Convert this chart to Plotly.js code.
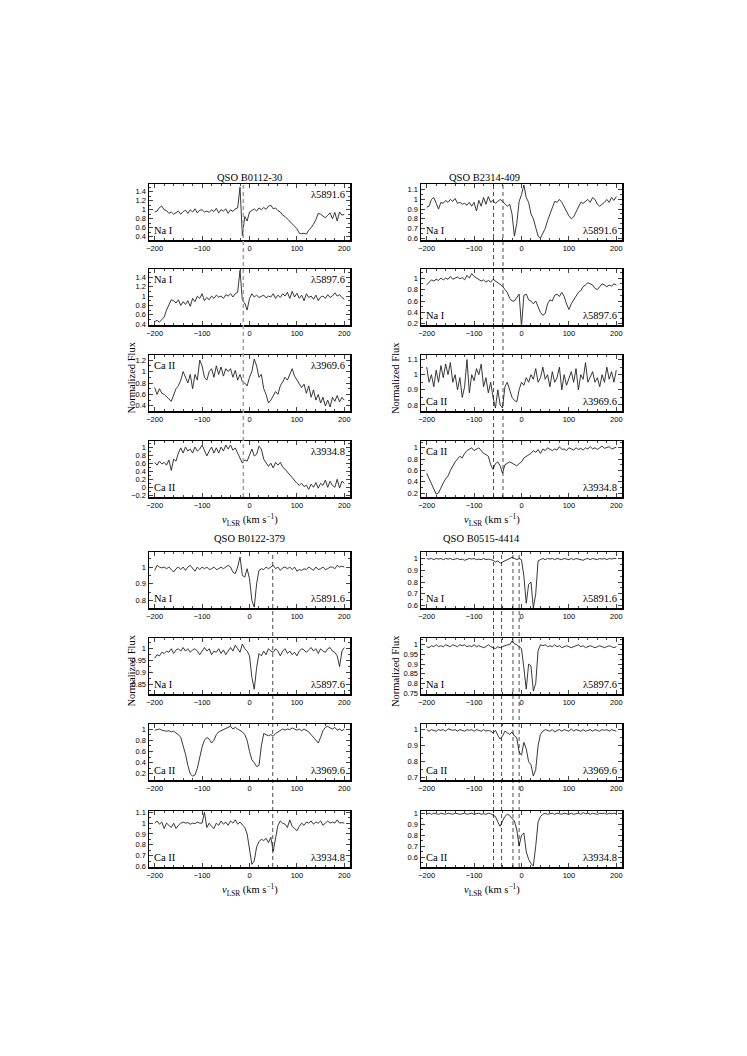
<!DOCTYPE html>
<html>
<head>
<meta charset="utf-8">
<script src="https://cdn.plot.ly/plotly-3.0.1.min.js"></script>
<style>body{margin:0;background:#fff}#chart{width:747px;height:1056px}</style>
</head>
<body>
<div id="chart"></div>
<script>
// Interstellar absorption profiles towards four QSOs (Na I and Ca II)

var vel = [-200,-195,-190,-185,-180,-175,-170,-165,-160,-155,
  -150,-145,-140,-135,-130,-125,-120,-115,-110,-105,
  -100,-95,-90,-85,-80,-75,-70,-65,-60,-55,
  -50,-45,-40,-35,-30,-25,-20,-15,-10,-5,
  0,5,10,15,20,25,30,35,40,45,
  50,55,60,65,70,75,80,85,90,95,
  100,105,110,115,120,125,130,135,140,145,
  150,155,160,165,170,175,180,185,190,195,
  200];

// ---- QSO B0112-30 ----
var b0112_na5891 = [0.95,0.97,1.05,1.08,1.0,0.98,0.92,0.95,0.9,0.93,
  0.97,0.9,0.96,0.99,0.92,1.0,0.95,1.02,0.93,0.99,
  1.0,0.95,0.97,0.94,1.0,0.96,1.03,0.93,1.0,0.97,
  1.02,0.92,1.0,0.96,1.02,1.04,1.5,0.42,0.85,0.75,
  0.95,0.98,1.02,0.97,1.04,1.0,1.05,1.01,1.08,1.1,
  1.02,1.04,0.98,0.95,0.88,0.85,0.8,0.75,0.7,0.64,
  0.58,0.48,0.47,0.48,0.46,0.55,0.6,0.68,0.78,0.92,
  0.9,0.86,0.82,0.88,0.93,0.8,0.94,0.75,0.95,0.88,
  0.9];
var b0112_na5897 = [0.45,0.48,0.44,0.5,0.55,0.7,0.8,0.92,0.9,0.85,
  0.92,0.8,0.88,0.82,0.9,0.78,0.95,0.88,1.0,0.95,
  1.05,0.9,0.97,0.92,1.0,0.95,1.02,0.98,1.0,0.95,
  1.03,1.0,1.05,0.98,1.05,1.08,1.55,0.9,0.85,0.7,
  0.95,1.05,0.98,1.02,0.97,1.0,1.02,0.96,1.0,0.98,
  1.05,0.95,1.02,0.97,1.05,1.0,1.08,0.95,1.1,0.98,
  1.06,0.95,1.02,0.9,1.05,0.97,1.0,0.93,1.02,0.9,
  0.98,1.0,0.95,1.03,0.97,1.0,1.07,1.0,1.03,0.97,
  0.93];
var b0112_ca3969 = [0.72,0.6,0.7,0.62,0.6,0.55,0.52,0.48,0.6,0.7,
  0.75,0.85,1.0,0.9,0.8,0.95,0.7,0.95,0.85,1.2,
  1.1,0.9,0.85,1.0,1.05,0.9,1.1,0.95,1.08,0.92,
  1.05,1.0,1.05,0.9,1.02,0.85,0.95,0.82,0.8,0.75,
  0.9,1.0,1.22,1.1,0.9,0.95,0.7,0.6,0.45,0.5,
  0.58,0.65,0.6,0.75,0.82,0.9,0.85,0.95,1.05,0.92,
  0.85,0.8,0.72,0.78,0.62,0.75,0.55,0.68,0.5,0.6,
  0.45,0.55,0.4,0.5,0.38,0.55,0.48,0.58,0.47,0.55,
  0.5];
var b0112_ca3934 = [0.62,0.55,0.65,0.58,0.62,0.55,0.68,0.42,0.7,0.65,
  0.85,0.98,0.85,1.0,0.9,0.95,0.85,1.0,0.9,0.95,
  1.05,0.9,0.78,0.9,1.0,0.85,0.98,0.85,1.0,0.9,
  1.05,0.95,1.05,0.92,0.98,0.85,0.72,0.6,0.68,0.65,
  0.8,0.95,0.78,0.82,1.02,0.95,0.7,0.6,0.52,0.6,
  0.48,0.62,0.55,0.62,0.5,0.45,0.38,0.3,0.22,0.15,
  0.1,0.05,0.1,0.02,0.05,-0.05,0.08,0.0,0.12,-0.02,
  0.1,0.05,0.18,0.0,0.15,0.05,0.0,0.2,-0.02,0.15,
  0.1];

// ---- QSO B2314-409 ----
var b2314_na5891 = [0.92,0.93,1.0,1.02,0.96,0.9,0.97,0.96,0.99,0.97,
  1.0,0.98,1.01,0.96,0.97,0.95,0.96,0.94,0.97,0.93,
  0.97,0.88,0.99,0.93,1.02,0.95,1.03,0.97,0.99,0.96,
  0.98,1.0,0.98,0.95,0.93,0.95,0.85,0.62,0.75,0.98,
  1.05,1.15,1.02,0.97,0.85,0.8,0.7,0.62,0.6,0.65,
  0.7,0.78,0.85,0.92,0.98,0.97,1.0,0.97,0.92,0.88,
  0.83,0.8,0.82,0.87,0.92,0.97,0.96,0.98,1.0,0.97,
  1.02,1.0,0.95,0.93,0.95,0.97,1.0,0.97,1.02,0.99,
  1.03];
var b2314_na5897 = [0.88,0.93,0.97,0.95,0.98,0.96,1.0,0.97,1.0,0.98,
  1.03,0.98,1.0,1.02,0.99,1.01,0.97,1.05,1.0,1.08,
  1.03,1.0,0.97,0.95,0.97,0.93,0.96,0.93,0.98,0.95,
  0.92,0.88,0.86,0.8,0.75,0.65,0.6,0.6,0.65,0.72,
  0.15,0.7,0.72,0.62,0.6,0.55,0.6,0.5,0.4,0.35,
  0.38,0.55,0.62,0.6,0.7,0.72,0.68,0.75,0.68,0.55,
  0.45,0.55,0.62,0.68,0.75,0.78,0.85,0.88,0.92,0.9,
  0.88,0.82,0.8,0.85,0.9,0.88,0.85,0.88,0.86,0.9,
  0.88];
var b2314_ca3969 = [1.05,0.95,1.0,0.92,1.03,0.95,1.06,0.98,1.07,1.0,
  1.08,0.95,1.0,0.9,0.98,0.85,0.92,1.1,0.88,1.0,
  0.96,1.04,1.0,1.07,0.92,0.98,0.88,0.95,0.85,0.78,
  0.9,0.8,0.78,0.92,0.95,0.9,0.85,0.83,0.82,0.9,
  0.95,0.93,0.98,0.95,1.0,0.97,1.04,0.95,0.98,1.05,
  0.97,1.0,0.92,1.02,0.95,0.98,1.05,0.9,1.0,0.93,
  0.97,1.02,0.95,1.04,0.9,1.0,0.97,1.08,0.95,0.98,
  1.02,0.95,0.98,0.92,1.0,0.95,1.05,0.97,1.02,0.95,
  1.03];
var b2314_ca3934 = [0.55,0.45,0.35,0.25,0.18,0.2,0.3,0.38,0.45,0.5,
  0.6,0.68,0.75,0.8,0.85,0.82,0.9,0.95,0.98,1.0,
  0.95,0.98,1.0,0.95,0.9,0.88,0.85,0.7,0.62,0.72,
  0.75,0.68,0.55,0.7,0.72,0.75,0.73,0.7,0.68,0.72,
  0.75,0.82,0.85,0.88,0.9,0.95,0.92,0.97,0.9,0.98,
  0.95,1.0,0.97,0.95,0.98,0.96,1.02,0.97,0.98,0.95,
  1.0,0.98,0.96,1.0,0.97,0.99,0.96,1.0,0.98,1.02,
  0.98,1.0,0.97,1.0,1.03,0.99,1.0,1.02,0.98,1.0,
  1.01];

// ---- QSO B0122-379 ----
var b0122_na5891 = [0.98,1.01,1.0,0.995,1.0,0.99,1.0,0.985,0.97,0.99,
  1.0,0.985,1.0,0.98,1.0,1.01,0.99,0.975,1.0,0.985,
  1.0,0.99,1.0,0.985,0.99,1.0,0.985,0.99,1.0,0.99,
  1.0,1.01,1.0,0.97,0.96,1.0,1.06,0.95,0.94,0.99,
  0.93,0.8,0.76,0.9,0.98,0.99,0.985,1.0,0.99,1.0,
  1.01,0.99,1.0,0.98,0.995,1.0,0.99,1.0,0.985,1.0,
  0.975,0.985,0.98,0.99,0.985,1.0,0.99,0.98,1.0,0.985,
  0.99,1.0,0.985,0.99,1.0,1.0,0.99,1.01,1.0,1.005,
  1.0];
var b0122_na5897 = [0.96,0.975,0.97,0.985,0.98,0.99,0.985,1.0,0.98,0.995,
  1.0,0.99,1.005,0.99,1.0,0.985,0.995,1.0,0.99,0.975,
  0.99,1.005,0.99,1.0,0.975,0.99,0.985,1.0,0.98,0.995,
  0.975,0.99,1.005,0.99,1.015,1.0,0.985,1.02,1.0,0.99,
  0.97,0.88,0.83,0.92,0.98,0.97,0.99,0.975,1.0,0.99,
  0.985,1.0,0.99,0.97,0.99,1.0,0.98,0.99,0.975,0.985,
  0.97,0.99,1.0,0.995,0.985,0.995,1.005,0.99,1.0,0.98,
  1.0,0.99,0.985,1.0,1.005,0.99,0.985,0.97,0.925,0.99,
  1.005];
var b0122_ca3969 = [0.98,0.99,1.0,0.98,0.97,0.96,0.97,0.95,0.96,0.93,
  0.9,0.85,0.72,0.55,0.35,0.2,0.16,0.18,0.3,0.5,
  0.68,0.8,0.85,0.82,0.75,0.8,0.9,0.95,0.97,0.98,
  1.0,1.02,1.05,1.0,1.03,1.0,0.97,0.95,0.9,0.8,
  0.6,0.45,0.4,0.33,0.35,0.7,0.92,0.9,0.88,0.9,
  0.87,0.92,0.95,0.97,1.0,0.98,1.0,0.99,1.02,1.0,
  0.98,1.0,0.97,1.0,0.98,0.95,0.9,0.85,0.78,0.75,
  0.85,0.97,1.03,1.05,1.02,1.0,1.03,0.98,1.0,0.97,
  1.0];
var b0122_ca3934 = [1.0,1.02,0.99,1.01,0.95,1.0,0.98,0.96,1.0,0.95,
  0.98,1.0,1.01,1.0,1.005,0.99,1.0,0.995,1.01,1.0,
  1.0,1.1,0.96,1.0,0.97,0.95,1.0,0.98,1.02,0.99,
  1.01,0.98,1.02,1.0,1.03,0.99,1.01,0.98,0.96,0.9,
  0.75,0.62,0.65,0.78,0.83,0.85,0.84,0.86,0.82,0.87,
  0.74,0.85,0.98,1.02,1.0,0.99,0.96,1.03,0.97,0.95,
  0.93,0.97,1.0,0.98,1.01,1.0,1.02,0.99,1.01,1.0,
  1.02,0.98,1.0,1.02,1.0,1.01,1.0,1.03,1.0,1.005,
  1.0];

// ---- QSO B0515-4414 ----
var b0515_na5891 = [1.0,0.995,1.0,0.99,1.0,0.995,1.0,0.99,1.0,0.995,
  1.0,0.99,0.995,1.0,0.99,0.995,0.985,0.99,1.0,0.995,
  1.0,0.99,0.995,0.99,1.0,0.99,0.995,0.99,0.985,0.97,
  0.98,0.96,0.97,0.98,0.99,1.0,1.01,1.0,0.99,1.0,
  0.99,0.85,0.62,0.78,0.8,0.58,0.7,0.98,0.99,1.0,
  0.99,1.0,0.995,1.0,0.99,1.0,0.995,0.99,1.0,0.995,
  0.99,1.0,0.99,1.0,0.995,0.99,0.985,0.995,1.0,0.99,
  1.0,0.995,0.99,1.0,0.995,1.0,0.99,1.0,0.995,1.0,
  1.0];
var b0515_na5897 = [0.99,0.985,0.995,0.99,1.0,0.99,0.995,0.99,1.0,0.995,
  0.99,1.0,0.995,0.99,1.0,0.995,1.0,0.99,0.995,0.99,
  1.0,0.99,0.995,0.99,0.985,0.99,1.0,0.99,0.985,0.98,
  0.99,0.985,0.99,0.995,1.0,1.0,1.02,1.005,1.0,0.99,
  0.98,0.88,0.77,0.9,0.89,0.76,0.8,0.97,1.0,0.995,
  1.0,0.99,0.995,0.99,1.0,0.99,0.995,0.985,0.99,0.995,
  0.99,0.985,0.99,0.995,1.0,0.99,0.995,0.985,0.99,0.995,
  0.99,0.985,0.99,0.995,0.99,0.985,0.99,0.995,0.99,0.985,
  0.99];
var b0515_ca3969 = [1.0,0.99,1.0,0.995,0.99,1.0,0.995,1.0,0.99,1.005,
  1.0,0.995,1.0,0.99,1.0,0.995,0.99,1.0,0.995,1.0,
  0.99,1.0,0.995,0.99,1.0,0.99,0.995,0.99,0.98,0.995,
  0.965,0.94,0.96,0.99,0.98,0.97,0.985,0.96,0.95,0.86,
  0.84,0.92,0.88,0.8,0.78,0.71,0.75,0.9,0.97,0.99,
  1.0,0.995,0.99,1.0,0.985,0.995,1.0,0.99,1.0,0.995,
  0.99,1.005,0.99,1.0,0.995,0.99,1.0,0.99,0.995,1.0,
  0.99,1.0,0.995,0.99,1.0,0.995,1.0,0.99,1.0,0.995,
  0.99];
var b0515_ca3934 = [0.995,1.0,0.99,1.0,0.995,0.99,1.0,0.995,0.99,1.0,
  0.995,0.99,1.0,0.995,0.99,0.995,1.0,0.99,0.995,1.0,
  0.99,0.995,1.0,0.99,0.995,0.99,1.0,0.995,0.98,0.97,
  0.92,0.88,0.93,0.97,0.99,0.98,0.95,0.93,0.85,0.7,
  0.8,0.82,0.65,0.58,0.54,0.52,0.7,0.92,0.97,0.99,
  1.0,0.99,0.995,1.0,0.99,1.0,0.995,0.99,1.0,0.995,
  0.99,1.0,0.99,0.995,1.0,0.99,1.005,0.995,1.0,0.99,
  1.0,0.995,0.99,1.0,0.995,1.0,0.99,1.0,0.995,1.0,
  0.995];

// marked velocity components (dashed lines)
var marks_b0112 = [-13];
var marks_b2314 = [-59, -39];
var marks_b0122 = [49];
var marks_b0515 = [-59, -42, -18, -5];

var ionNames = ['Na I', 'Na I', 'Ca II', 'Ca II'];
var lineNames = ['\u03bb5891.6', '\u03bb5897.6', '\u03bb3969.6', '\u03bb3934.8'];

// page geometry (pixels)
var W = 747, H = 1056;
var colL = [149, 350], colR = [421, 622];
var rowsTop = [[184, 240], [269, 325], [355, 411], [441, 497]];
var rowsBot = [[552, 608], [638, 694], [724, 780], [811, 867]];

var blocks = [
  { title: 'QSO B0112-30', col: colL, rows: rowsTop,
    flux: [b0112_na5891, b0112_na5897, b0112_ca3969, b0112_ca3934],
    yr: [[0.33, 1.57], [0.38, 1.58], [0.31, 1.29], [-0.24, 1.15]],
    dt: [0.2, 0.2, 0.2, 0.2],
    ionPos: ['ll', 'ul', 'ul', 'll'], linePos: ['ur', 'ur', 'ur', 'ur'],
    marks: marks_b0112, markColor: '#a0a0a0', markWidth: 1.5 },
  { title: 'QSO B2314-409', col: colR, rows: rowsTop,
    flux: [b2314_na5891, b2314_na5897, b2314_ca3969, b2314_ca3934],
    yr: [[0.58, 1.16], [0.18, 1.16], [0.76, 1.13], [0.13, 1.12]],
    dt: [0.1, 0.2, 0.1, 0.2],
    ionPos: ['ll', 'll', 'll', 'ul'], linePos: ['lr', 'lr', 'lr', 'lr'],
    marks: marks_b2314, markColor: '#000', markWidth: 0.7 },
  { title: 'QSO B0122-379', col: colL, rows: rowsBot,
    flux: [b0122_na5891, b0122_na5897, b0122_ca3969, b0122_ca3934],
    yr: [[0.755, 1.09], [0.81, 1.045], [0.09, 1.09], [0.595, 1.112]],
    dt: [0.1, 0.05, 0.2, 0.1],
    ionPos: ['ll', 'll', 'll', 'll'], linePos: ['lr', 'lr', 'lr', 'lr'],
    marks: marks_b0122, markColor: '#000', markWidth: 0.7 },
  { title: 'QSO B0515-4414', col: colR, rows: rowsBot,
    flux: [b0515_na5891, b0515_na5897, b0515_ca3969, b0515_ca3934],
    yr: [[0.58, 1.055], [0.745, 1.035], [0.685, 1.035], [0.51, 1.02]],
    dt: [0.1, 0.05, 0.1, 0.1],
    ionPos: ['ll', 'll', 'll', 'll'], linePos: ['lr', 'lr', 'lr', 'lr'],
    marks: marks_b0515, markColor: '#000', markWidth: 0.7 }
];

function px(x) { return x / W; }
function py(y) { return 1 - y / H; }

var serif = 'Liberation Serif, Times New Roman, serif';
var tickFont = { family: 'Liberation Sans, Arial, sans-serif', size: 7.5, color: '#000' };
var labFont = { family: serif, size: 10.5, color: '#000' };

var data = [];
var layout = {
  width: W, height: H, autosize: false,
  margin: { l: 0, r: 0, t: 0, b: 0 },
  paper_bgcolor: '#fff', plot_bgcolor: '#fff',
  showlegend: false,
  annotations: [], shapes: []
};

function corner(pos, col, row, text) {
  var left = pos[1] === 'l';
  var low = pos[0] === 'l';
  return {
    xref: 'paper', yref: 'paper', showarrow: false, text: text, font: labFont,
    x: px(left ? col[0] + 3 : col[1] - 3),
    y: py(low ? row[1] - 2 : row[0] + 3),
    xanchor: left ? 'left' : 'right', yanchor: low ? 'bottom' : 'top'
  };
}

var n = 0;
blocks.forEach(function (b) {
  var firstAxis = n + 1;
  for (var i = 0; i < 4; i++) {
    n++;
    var sfx = n === 1 ? '' : String(n);
    var row = b.rows[i];
    data.push({
      x: vel, y: b.flux[i], xaxis: 'x' + sfx, yaxis: 'y' + sfx,
      type: 'scatter', mode: 'lines',
      line: { color: '#222', width: 0.9 },
      hoverinfo: 'skip'
    });
    layout['xaxis' + sfx] = {
      domain: [px(b.col[0]), px(b.col[1])], anchor: 'y' + sfx,
      range: [-212, 212], tick0: 0, dtick: 100,
      ticks: 'inside', ticklen: 4, tickwidth: 1, mirror: 'allticks',
      minor: { ticks: 'inside', ticklen: 2, dtick: 20, tick0: 0 },
      showline: true, linecolor: '#000', linewidth: 1.5,
      showgrid: false, zeroline: false, tickfont: tickFont, fixedrange: true
    };
    layout['yaxis' + sfx] = {
      domain: [py(row[1]), py(row[0])], anchor: 'x' + sfx,
      range: b.yr[i], tick0: 0, dtick: b.dt[i],
      ticks: 'inside', ticklen: 4, tickwidth: 1, mirror: 'allticks',
      minor: { ticks: 'inside', ticklen: 2, dtick: b.dt[i] / 2, tick0: 0 },
      showline: true, linecolor: '#000', linewidth: 1.5,
      showgrid: false, zeroline: false, tickfont: tickFont, fixedrange: true
    };
    layout.annotations.push(corner(b.ionPos[i], b.col, row, ionNames[i]));
    layout.annotations.push(corner(b.linePos[i], b.col, row, lineNames[i]));
  }
  var xr = 'x' + (firstAxis === 1 ? '' : String(firstAxis));
  b.marks.forEach(function (v) {
    layout.shapes.push({
      type: 'line', xref: xr, yref: 'paper', x0: v, x1: v,
      y0: py(b.rows[3][1]), y1: py(b.rows[0][0]),
      line: { color: b.markColor, width: b.markWidth, dash: '4px,3px' }
    });
  });
  var cx = px((b.col[0] + b.col[1]) / 2);
  layout.annotations.push({
    xref: 'paper', yref: 'paper', x: cx, y: py(b.rows[0][0] - 14),
    text: b.title, showarrow: false, font: { family: serif, size: 10.5, color: '#000' }
  });
  layout.annotations.push({
    xref: 'paper', yref: 'paper', x: cx, y: py(b.rows[3][1] + 13), yanchor: 'top',
    text: '<i>v</i><sub>LSR</sub> (km s<sup>\u22121</sup>)', showarrow: false,
    font: { family: serif, size: 10.5, color: '#000' }
  });
  layout.annotations.push({
    xref: 'paper', yref: 'paper', x: px(b.col[0] - 26),
    y: py((b.rows[1][1] + b.rows[2][0]) / 2),
    text: 'Normalized Flux', textangle: -90, showarrow: false,
    font: { family: serif, size: 10.5, color: '#000' }
  });
});

Plotly.newPlot('chart', data, layout, { staticPlot: true });
</script>
</body>
</html>
